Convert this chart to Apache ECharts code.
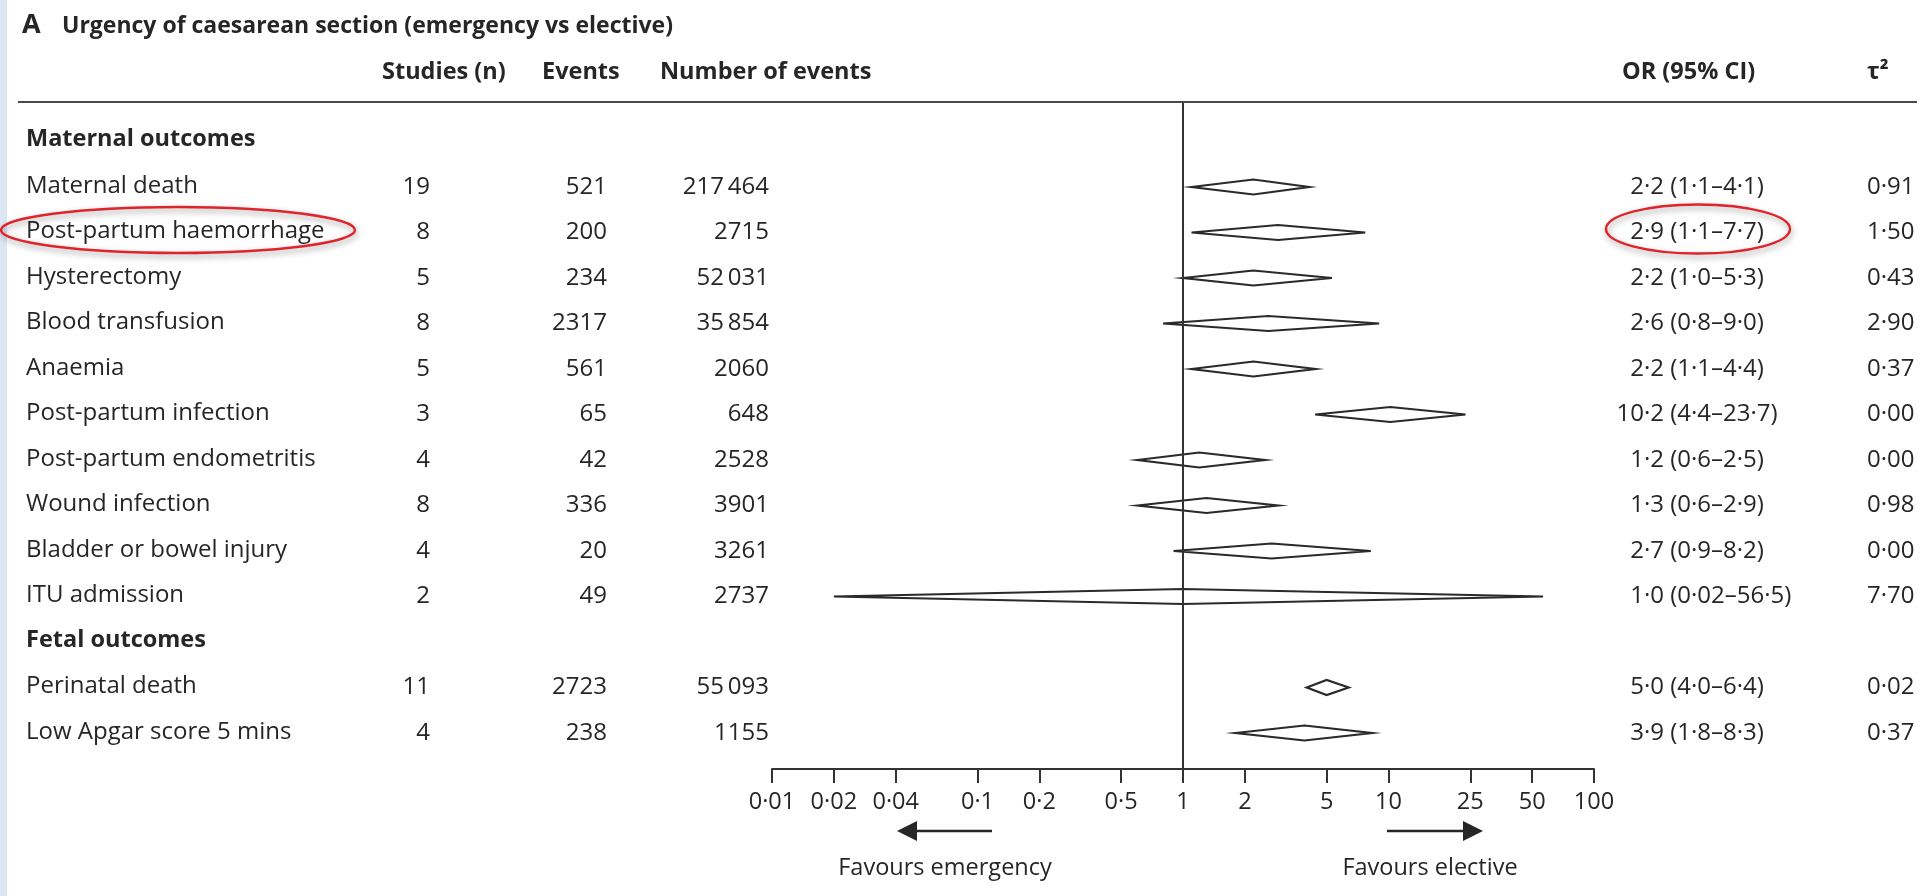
<!DOCTYPE html>
<html>
<head>
<meta charset="utf-8">
<script src="https://cdn.jsdelivr.net/npm/echarts@6/dist/echarts.min.js"></script>
<style>
  html, body { margin: 0; padding: 0; background: #ffffff; }
  #chart { width: 1928px; height: 896px; }
</style>
</head>
<body>
<div id="chart"></div>
<script>
// ---------- data ----------
const groupNames = ['Maternal outcomes', 'Fetal outcomes'];
const outcomes = ['Maternal death', 'Post-partum haemorrhage', 'Hysterectomy', 'Blood transfusion', 'Anaemia',
  'Post-partum infection', 'Post-partum endometritis', 'Wound infection', 'Bladder or bowel injury', 'ITU admission',
  'Perinatal death', 'Low Apgar score 5 mins'];
const outcomeGroup = [0, 0, 0, 0, 0, 0, 0, 0, 0, 0, 1, 1];
const studies = [19, 8, 5, 8, 5, 3, 4, 8, 4, 2, 11, 4];
const events = [521, 200, 234, 2317, 561, 65, 42, 336, 20, 49, 2723, 238];
const totals = [217464, 2715, 52031, 35854, 2060, 648, 2528, 3901, 3261, 2737, 55093, 1155];
const orValues = [2.2, 2.9, 2.2, 2.6, 2.2, 10.2, 1.2, 1.3, 2.7, 1.0, 5.0, 3.9];
const ciLow = [1.1, 1.1, 1.0, 0.8, 1.1, 4.4, 0.6, 0.6, 0.9, 0.02, 4.0, 1.8];
const ciHigh = [4.1, 7.7, 5.3, 9.0, 4.4, 23.7, 2.5, 2.9, 8.2, 56.5, 6.4, 8.3];
const tau2 = [0.91, 1.50, 0.43, 2.90, 0.37, 0.00, 0.00, 0.98, 0.00, 7.70, 0.02, 0.37];
const tickValues = [0.01, 0.02, 0.04, 0.1, 0.2, 0.5, 1, 2, 5, 10, 25, 50, 100];
const titleLetter = 'A';
const titleText = 'Urgency of caesarean section (emergency vs elective)';
const headers = { studies: 'Studies (n)', events: 'Events', totals: 'Number of events', or: 'OR (95% CI)', tau: 'τ²' };
const favourLeft = 'Favours emergency';
const favourRight = 'Favours elective';

// ---------- helpers ----------
const FONT = '"Open Sans", "Noto Sans", sans-serif';
const TXT = '#262626';
const dot = s => String(s).replace('.', '·');
const fmtInt = n => n >= 10000 ? String(n).replace(/\B(?=(\d{3})+(?!\d))/g, '\u2009') : String(n);
const fmtCI = v => dot(v < 0.1 ? v.toFixed(2) : v.toFixed(1));
const fmtTick = v => dot(String(Number(Number(v).toPrecision(6))));

// build rows (row index along the y axis)
const tableRows = [];
const diamondRows = [];
let row = 0;
let lastGroup = -1;
outcomes.forEach((name, i) => {
  if (outcomeGroup[i] !== lastGroup) {
    lastGroup = outcomeGroup[i];
    tableRows.push({ value: [row, -1, lastGroup] });
    row++;
  }
  tableRows.push({ value: [row, i, lastGroup] });
  diamondRows.push({ value: [row, orValues[i], ciLow[i], ciHigh[i]] });
  row++;
});

function txt(x, y, text, align, weight, size) {
  return {
    type: 'text', x: x, y: y,
    style: {
      text: text, fill: TXT,
      font: (weight || 'normal') + ' ' + (size || 24) + 'px ' + FONT,
      align: align, textAlign: align,
      verticalAlign: 'middle', textVerticalAlign: 'middle'
    }
  };
}
function gtxt(x, y, text, align, font) {
  return { type: 'text', x: x, y: y, style: { text: text, fill: TXT, font: font, align: align, textAlign: align, verticalAlign: 'middle', textVerticalAlign: 'middle' } };
}

const chart = echarts.init(document.getElementById('chart'), null, { renderer: 'canvas' });

const HEAD = 'bold 23.5px ' + FONT;
const option = {
  animation: false,
  backgroundColor: '#ffffff',
  grid: { left: 772, right: 334, top: 103, bottom: 127, containLabel: false },
  xAxis: {
    type: 'log', logBase: 10, min: 0.01, max: 100, position: 'bottom',
    axisLine: { show: true, onZero: false, lineStyle: { color: '#333', width: 2 } },
    axisTick: { show: true, customValues: tickValues, length: 14, lineStyle: { color: '#333', width: 2 } },
    axisLabel: {
      show: true, customValues: tickValues, formatter: v => fmtTick(v),
      color: TXT, fontSize: 23.5, fontFamily: FONT, margin: 21
    },
    splitLine: { show: false },
    minorTick: { show: false }
  },
  yAxis: { type: 'value', min: -0.846, max: 13.791, inverse: true, show: false, splitLine: { show: false } },
  graphic: [
    { type: 'rect', left: 0, top: 0, shape: { width: 7, height: 896 }, style: { fill: '#dde7f3' } },
    gtxt(22, 25, titleLetter, 'left', 'bold 27px ' + FONT),
    gtxt(62, 26, titleText, 'left', 'bold 23px ' + FONT),
    gtxt(382, 72, headers.studies, 'left', HEAD),
    gtxt(542, 72, headers.events, 'left', HEAD),
    gtxt(660, 72, headers.totals, 'left', HEAD),
    gtxt(1622, 72, headers.or, 'left', HEAD),
    gtxt(1867, 72, headers.tau, 'left', HEAD),
    { type: 'line', shape: { x1: 18, y1: 102, x2: 1917, y2: 102 }, style: { stroke: '#4a4a4a', lineWidth: 2 } },
    // direction arrows
    { type: 'line', shape: { x1: 992, y1: 831, x2: 914, y2: 831 }, style: { stroke: '#262626', lineWidth: 2.5 } },
    { type: 'polygon', shape: { points: [[897, 831], [917, 821], [917, 841]] }, style: { fill: '#262626' } },
    { type: 'line', shape: { x1: 1387, y1: 831, x2: 1466, y2: 831 }, style: { stroke: '#262626', lineWidth: 2.5 } },
    { type: 'polygon', shape: { points: [[1483, 831], [1463, 821], [1463, 841]] }, style: { fill: '#262626' } },
    gtxt(945, 868, favourLeft, 'center', '23.5px ' + FONT),
    gtxt(1430, 868, favourRight, 'center', '23.5px ' + FONT),
    // red highlight ellipses
    { type: 'ellipse', z: 100, shape: { cx: 178, cy: 230, rx: 177, ry: 23 }, style: { fill: 'none', stroke: '#e0242b', lineWidth: 2.4, shadowBlur: 6, shadowColor: 'rgba(0,0,0,0.4)', shadowOffsetX: 1, shadowOffsetY: 3 } },
    { type: 'ellipse', z: 100, shape: { cx: 1698, cy: 229, rx: 92, ry: 24.5 }, style: { fill: 'none', stroke: '#e0242b', lineWidth: 2.4, shadowBlur: 6, shadowColor: 'rgba(0,0,0,0.4)', shadowOffsetX: 1, shadowOffsetY: 3 } }
  ],
  series: [
    {
      type: 'custom',
      name: 'table',
      silent: true,
      clip: false,
      data: tableRows,
      renderItem: function (params, api) {
        const r = api.value(0);
        const i = api.value(1);
        const g = api.value(2);
        const y = api.coord([1, r])[1];
        if (i < 0) {
          return { type: 'group', children: [txt(26, y - 2, groupNames[g], 'left', 'bold', 23.5)] };
        }
        return {
          type: 'group',
          children: [
            txt(26, y - 1, outcomes[i], 'left'),
            txt(430, y, String(studies[i]), 'right'),
            txt(607, y, fmtInt(events[i]), 'right'),
            txt(769, y, fmtInt(totals[i]), 'right'),
            txt(1664, y, dot(orValues[i].toFixed(1)), 'right'),
            txt(1664, y, ' (' + fmtCI(ciLow[i]) + '–' + fmtCI(ciHigh[i]) + ')', 'left'),
            txt(1867, y, dot(tau2[i].toFixed(2)), 'left')
          ]
        };
      }
    },
    {
      type: 'custom',
      name: 'diamonds',
      silent: true,
      clip: false,
      data: diamondRows,
      renderItem: function (params, api) {
        const r = api.value(0);
        const mid = api.coord([api.value(1), r]);
        const lo = api.coord([api.value(2), r]);
        const hi = api.coord([api.value(3), r]);
        const h = 7.5;
        return {
          type: 'polygon',
          shape: { points: [[lo[0], lo[1]], [mid[0], mid[1] - h], [hi[0], hi[1]], [mid[0], mid[1] + h]] },
          style: { fill: 'none', stroke: '#2a2a2a', lineWidth: 2.2 }
        };
      },
      markLine: {
        silent: true,
        symbol: ['none', 'none'],
        label: { show: false },
        lineStyle: { color: '#333', width: 2, type: 'solid' },
        data: [{ xAxis: 1 }]
      }
    }
  ]
};
chart.setOption(option);
</script>
</body>
</html>
